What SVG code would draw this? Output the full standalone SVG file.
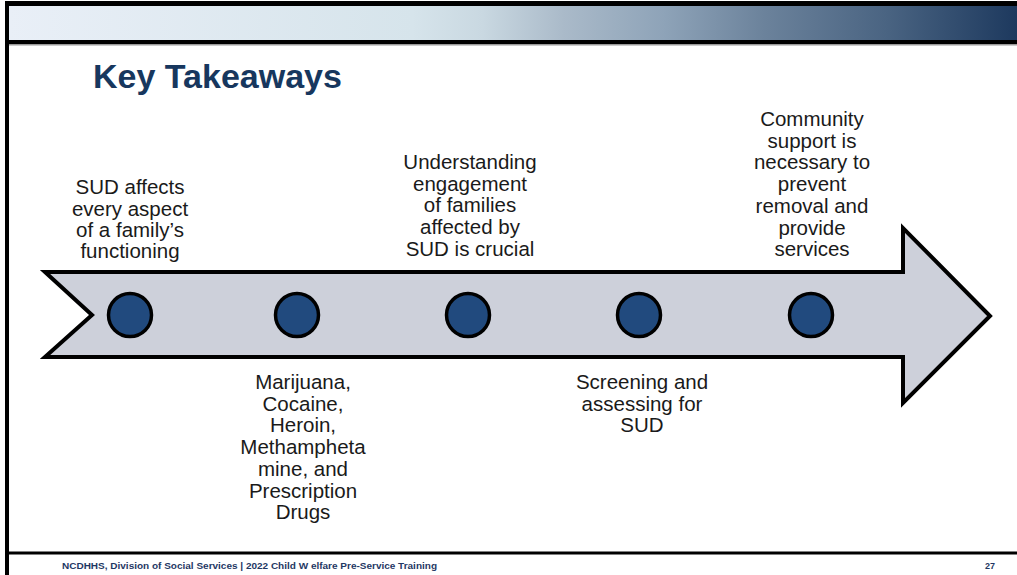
<svg xmlns="http://www.w3.org/2000/svg" width="1017" height="575" viewBox="0 0 1017 575">
<defs>
<linearGradient id="hdr" x1="0" y1="0" x2="1" y2="0">
<stop offset="0" stop-color="#e9eff7"/>
<stop offset="0.4" stop-color="#d6e4eb"/>
<stop offset="0.47" stop-color="#c9d8e1"/>
<stop offset="0.55" stop-color="#aabac9"/>
<stop offset="0.65" stop-color="#8ea3b8"/>
<stop offset="0.75" stop-color="#6b829b"/>
<stop offset="0.87" stop-color="#4a6482"/>
<stop offset="1" stop-color="#1d395e"/>
</linearGradient>
<style>
.lbl{font-family:"Liberation Sans",Arial,sans-serif;font-size:20.5px;fill:#1a1a1a;text-anchor:middle}
.dot{fill:#214a7e;stroke:#000;stroke-width:3.5}
</style>
</defs>
<rect x="0" y="0" width="1017" height="575" fill="#fff"/>
<g id="frame">
<rect x="5" y="1" width="1012" height="5" fill="#000"/>
<rect x="9" y="6" width="1008" height="34" fill="url(#hdr)"/>
<rect x="5" y="40" width="1012" height="4" fill="#000"/>
<rect x="9" y="44" width="1008" height="1.5" fill="#9a9a9a"/>
<rect x="5" y="1" width="4" height="574" fill="#000"/>
<rect x="5" y="551.5" width="1012" height="3" fill="#000"/>
</g>
<text id="title" x="93" y="88" font-family="Liberation Sans,Arial,sans-serif" font-weight="bold" font-size="34" fill="#17375e">Key Takeaways</text>
<g id="arrow">
<polygon points="45,272 903,272 903,228 990,316 903,403 903,357 45,357 92,315" fill="#cdd0da" stroke="#000" stroke-width="4" stroke-linejoin="miter"/>
</g>
<g id="node1">
<circle class="dot" cx="130" cy="315" r="21.5"/>
<text class="lbl"><tspan x="130" y="194">SUD affects</tspan><tspan x="130" y="215.5">every aspect</tspan><tspan x="130" y="237">of a family’s</tspan><tspan x="130" y="258">functioning</tspan></text>
</g>
<g id="node2">
<circle class="dot" cx="297" cy="315" r="21.5"/>
<text class="lbl"><tspan x="303" y="389">Marijuana,</tspan><tspan x="303" y="410.7">Cocaine,</tspan><tspan x="303" y="432.4">Heroin,</tspan><tspan x="303" y="454.1">Methampheta</tspan><tspan x="303" y="475.8">mine, and</tspan><tspan x="303" y="497.5">Prescription</tspan><tspan x="303" y="519.2">Drugs</tspan></text>
</g>
<g id="node3">
<circle class="dot" cx="468" cy="315" r="21.5"/>
<text class="lbl"><tspan x="470" y="169">Understanding</tspan><tspan x="470" y="190.5">engagement</tspan><tspan x="470" y="212">of families</tspan><tspan x="470" y="233.5">affected by</tspan><tspan x="470" y="256">SUD is crucial</tspan></text>
</g>
<g id="node4">
<circle class="dot" cx="639" cy="315" r="21.5"/>
<text class="lbl"><tspan x="642" y="389">Screening and</tspan><tspan x="642" y="410.7">assessing for</tspan><tspan x="642" y="432.4">SUD</tspan></text>
</g>
<g id="node5">
<circle class="dot" cx="811" cy="315" r="21.5"/>
<text class="lbl"><tspan x="812" y="126">Community</tspan><tspan x="812" y="147.7">support is</tspan><tspan x="812" y="169.4">necessary to</tspan><tspan x="812" y="191.1">prevent</tspan><tspan x="812" y="212.8">removal and</tspan><tspan x="812" y="234.5">provide</tspan><tspan x="812" y="256.2">services</tspan></text>
</g>
<g id="connectors"></g>
<g id="footer">
<text x="62" y="569" font-family="Liberation Sans,Arial,sans-serif" font-weight="bold" font-size="9" fill="#1f3864" textLength="375" lengthAdjust="spacingAndGlyphs">NCDHHS, Division of Social Services | 2022 Child W elfare Pre-Service Training</text>
<text x="985" y="569" font-family="Liberation Sans,Arial,sans-serif" font-weight="bold" font-size="9" fill="#1f3864">27</text>
</g>
</svg>
